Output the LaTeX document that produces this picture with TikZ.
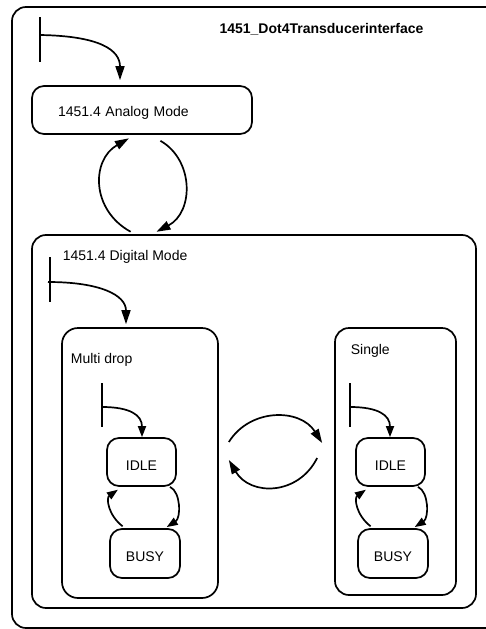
\documentclass[tikz,border=0pt]{standalone}
\usepackage{fontspec}
\setmainfont{Liberation Sans}
\usetikzlibrary{arrows.meta,calc}

\begin{document}
\begin{tikzpicture}[x=1pt, y=-1pt, line width=1.7pt,
  every node/.style={font=\fontsize{14}{16}\selectfont},
  box/.style={draw, rectangle, inner sep=0pt},
  simple/.style={box, rounded corners=12pt, minimum width=#1, minimum height=48pt, text height=17pt},
  region/.style={box, rounded corners=14pt},
  tr/.style={-{Triangle[length=14pt,width=9pt]}},
  trs/.style={-{Triangle[length=11pt,width=8pt]}},
  lbl/.style={anchor=base west, inner sep=0pt}]

\useasboundingbox (0,0) rectangle (486,629);
\clip (0,0) rectangle (486,629);

% top-level machine frame (its right side runs past the page edge) and its name
\coordinate (frameNW) at (12,7);
\coordinate (frameSE) at (520,628);
\draw[rounded corners=14pt] (frameNW) rectangle (frameSE);
\node[anchor=base, inner sep=0pt, font=\bfseries\fontsize{14}{16}\selectfont] (title) at (321.5,33) {1451\_Dot4Transducerinterface};

% analog mode
\node[box, rounded corners=12pt, minimum width=220pt, minimum height=48pt,
      text width=168pt, align=left, inner xsep=26pt, text height=16pt] (analog) at (142,110) {1451.4 Analog Mode};

% digital mode with its two sub-regions
\node[region, minimum width=444pt, minimum height=373pt] (digital) at (254,421.5) {};
\node[lbl] (digitallbl) at (62,260) {1451.4 Digital Mode};

\node[region, rounded corners=16pt, minimum width=156pt, minimum height=270pt] (multi) at (140,463) {};
\node[lbl] (multilbl) at (70,363) {Multi drop};

\node[region, minimum width=121pt, minimum height=267pt] (single) at (395.5,461.5) {};
\node[lbl] (singlelbl) at (350,354) {Single};

% leaf states
\node[simple=69pt] (idleL) at (141.5,462) {IDLE};
\node[simple=70pt, minimum height=49pt] (busyL) at (145,553.5) {BUSY};
\node[simple=69pt] (idleR) at (390.5,462) {IDLE};
\node[simple=70pt, minimum height=49pt] (busyR) at (393,553.5) {BUSY};

% initial pseudostates
\coordinate (init0) at (40,35);
\coordinate (init1) at (50,282);
\coordinate (init2) at (102,407);
\coordinate (init3) at (350,407);
\draw ($(init0)+(0,-18)$) -- ($(init0)+(0,27)$);
\draw ($(init1)+(0,-25)$) -- ($(init1)+(0,20)$);
\draw ($(init2)+(0,-24)$) -- ($(init2)+(0,20)$);
\draw ($(init3)+(0,-24)$) -- ($(init3)+(0,20)$);

\draw[tr, shorten >=5pt] (init0) .. controls (100,36) and (120,50) .. (analog.north -| 120,0);
\draw[tr, shorten >=3pt] ($(init1)+(-2,0)$) .. controls (100,282) and (126,295) .. (multi.north -| 126,0);
\draw[trs] (init2) .. controls (130,407) and (142,415) .. (idleL.north -| 142,0);
\draw[trs] (init3) .. controls (378,407) and (390,415) .. (idleR.north -| 390,0);

% analog <-> digital
\draw[tr, shorten <=5pt, shorten >=7pt] (digital.north -| 135,0) .. controls (91,210) and (91,160) .. (analog.south -| 135,0);
\draw[tr, shorten <=12pt, shorten >=5pt] (analog.south -| 150,0) .. controls (194,160) and (194,212) .. (digital.north -| 152,0);

% multi drop <-> single
\draw[tr] ($(multi.east)+(10,-21)$) .. controls (250,408) and (300,408) .. ($(single.west)+(-12,-18.5)$);
\draw[tr] ($(single.west)+(-17,-3.5)$) .. controls (298,496) and (250,496) .. ($(multi.east)+(10,-3)$);

% idle <-> busy
\draw[trs, shorten <=3pt, shorten >=5pt] (busyL.north -| 125,0) .. controls (108,515) and (106,498) .. (idleL.south -| 122,0);
\draw[trs, shorten >=2pt] (idleL.south -| 170,0) .. controls (181,492) and (181,518) .. (busyL.north -| 165,0);
\draw[trs, shorten <=3pt, shorten >=5pt] (busyR.north -| 373,0) .. controls (356,515) and (354,498) .. (idleR.south -| 370,0);
\draw[trs, shorten >=2pt] (idleR.south -| 418,0) .. controls (429,492) and (429,518) .. (busyR.north -| 413,0);

\end{tikzpicture}
\end{document}
